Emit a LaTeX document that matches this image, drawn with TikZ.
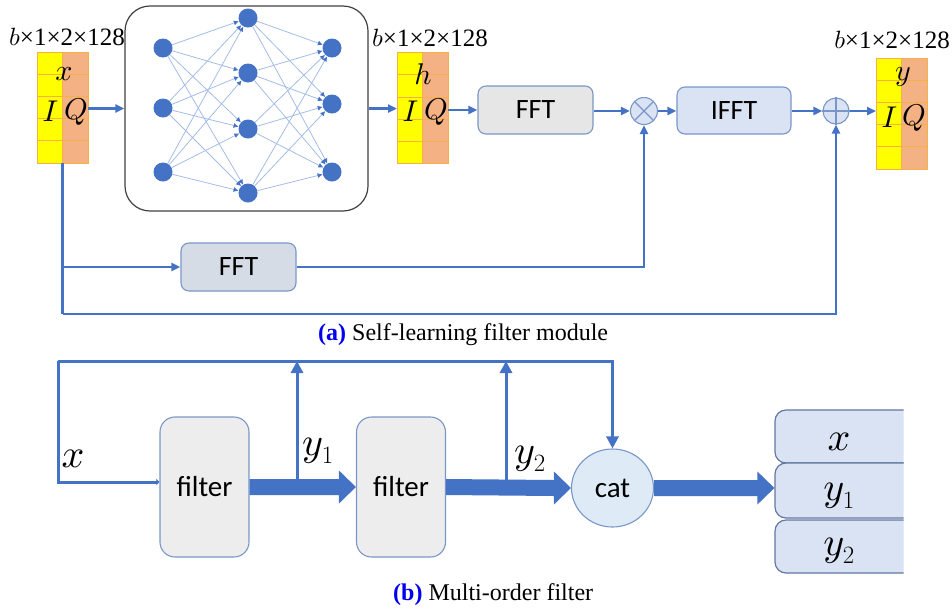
\documentclass[tikz,border=0pt]{standalone}
\usepackage{fontspec}
\setmainfont{Liberation Serif}
\newfontfamily\sansf{Carlito}
\DeclareFontFamily{OML}{cmm}{\skewchar\font127 }
\DeclareFontShape{OML}{cmm}{m}{it}{<->cmmi10}{}
\DeclareFontShape{OML}{cmm}{b}{it}{<->cmmib10}{}
\usetikzlibrary{arrows.meta,shapes.geometric,calc,backgrounds}
\definecolor{lblue}{HTML}{4472C4}
\definecolor{edgeblue}{HTML}{A4BCE6}
\definecolor{bordblue}{HTML}{7A96C8}
\definecolor{gfill}{HTML}{E7E6E6}
\definecolor{bfill}{HTML}{DAE3F3}
\definecolor{gbfill}{HTML}{D6DCE5}
\definecolor{ffill}{HTML}{EDEDED}
\definecolor{cfill}{HTML}{DEEBF7}
\definecolor{tyel}{HTML}{FFFF00}
\definecolor{tora}{HTML}{F4B183}
\definecolor{tline}{HTML}{F6B04A}
\definecolor{capblue}{HTML}{0000EE}
\newcommand\myfs[1]{\fontsize{#1}{#1}\selectfont}
\newcommand\tcells[1]{%
  \fill[tyel] (#1.north west) rectangle (#1.south);
  \fill[tora] (#1.north) rectangle (#1.south east);
  \foreach \k in {1,...,4}
    \draw[tline,line width=0.8pt] ($(#1.north west)!\k/5!(#1.south west)$) -- ($(#1.north east)!\k/5!(#1.south east)$);
  \draw[tline,line width=0.8pt] (#1.north) -- (#1.south);
  \draw[tline,line width=0.8pt] (#1.north west) rectangle (#1.south east);
}
\newcommand\thickarr[2]{%
  \fill[lblue] ($(#1)+(0,-8)$) -- ($(#2)+(-17,-8)$) -- ($(#2)+(-17,-16.5)$) -- (#2)
   -- ($(#2)+(-17,16.5)$) -- ($(#2)+(-17,8)$) -- ($(#1)+(0,8)$) -- cycle;}
\begin{document}
\begin{tikzpicture}[x=1pt,y=-1pt,
  tensor/.style={rectangle,inner sep=0pt,outer sep=0pt,minimum width=51pt,minimum height=111pt},
  dimlab/.style={inner sep=0pt,font=\myfs{25}},
  tvar/.style={inner sep=0pt,anchor=base,font=\myfs{30}},
  arr/.style={draw=lblue,line width=2.4pt,-{Triangle[length=9pt,width=8pt]}},
  tline2/.style={draw=lblue,line width=2.6pt},
  barr/.style={draw=lblue,line width=3pt,-{Triangle[length=12pt,width=12pt]}},
  bline/.style={draw=lblue,line width=3pt},
  procbox/.style={rectangle,rounded corners=8pt,draw=bordblue,line width=1.1pt,minimum width=115pt,minimum height=48pt,inner sep=0pt,font=\sansf\myfs{28}},
  opcirc/.style={circle,draw=bordblue,line width=1.1pt,fill=bfill,minimum size=27pt,inner sep=0pt},
  neuron/.style={circle,fill=lblue,minimum size=19pt,inner sep=0pt},
  nnedge/.style={draw=edgeblue,line width=0.8pt,-{Latex[length=5pt,width=5pt,color=lblue]}},
  filt/.style={rectangle,rounded corners=15pt,draw=bordblue,line width=1.1pt,fill=ffill,minimum width=89pt,minimum height=140pt,inner sep=0pt,font=\sansf\myfs{29}},
  obox/.style={rectangle,rounded corners=11pt,draw=bordblue!80!black,line width=1.2pt,fill=bfill,minimum width=150pt,inner sep=0pt},
  mlab/.style={inner sep=0pt,font=\myfs{40}}
]
\useasboundingbox (0,0) rectangle (952,611);

% ---------------- (a) ----------------
\node[tensor] (tx) at (62.5,107.5) {};
\tcells{tx}
\node[tensor] (th) at (422.5,108) {};
\tcells{th}
\node[tensor] (ty) at (901.5,113.5) {};
\tcells{ty}

\node[dimlab] (dx) at (67,37) {$b$×1×2×128};
\node[dimlab] (dh) at (430,38) {$b$×1×2×128};
\node[dimlab] (dy) at (892,40) {$b$×1×2×128};

\node[tvar] (vx) at (64,80) {$x$};
\node[tvar] (ix) at (50.5,121) {$I$};
\node[tvar] (qx) at (76,119) {$Q$};
\node[tvar] (vh) at (423,84) {$h$};
\node[tvar] (ih) at (410.5,121) {$I$};
\node[tvar] (qh) at (436,119) {$Q$};
\node[tvar] (vy) at (903,80) {$y$};
\node[tvar] (iy) at (889.5,127) {$I$};
\node[tvar] (qy) at (914,125) {$Q$};

% neural network
\node[rectangle,rounded corners=25pt,draw=black!75,line width=1.2pt,minimum width=243pt,minimum height=205pt,inner sep=0pt] (nn) at (246.5,108.5) {};
\foreach \i/\yy in {1/48,2/108,3/172} \node[neuron] (a\i) at (163,\yy) {};
\foreach \i/\yy in {1/18,2/73,3/129,4/193} \node[neuron] (b\i) at (248,\yy) {};
\foreach \i/\yy in {1/48,2/104,3/172} \node[neuron] (c\i) at (332,\yy) {};
\foreach \i in {1,2,3} \foreach \j in {1,...,4} \draw[nnedge] (a\i) -- (b\j);
\foreach \j in {1,...,4} \foreach \i in {1,2,3} \draw[nnedge] (b\j) -- (c\i);

\node[procbox,fill=gfill] (fft1) at (535.5,110) {FFT};
\node[opcirc] (mul) at (644,111) {};
\draw[bordblue,line width=1.1pt] ($(mul.center)+(-9.5,-9.5)$) -- ($(mul.center)+(9.5,9.5)$);
\draw[bordblue,line width=1.1pt] ($(mul.center)+(-9.5,9.5)$) -- ($(mul.center)+(9.5,-9.5)$);
\node[procbox,fill=bfill,minimum width=114pt,minimum height=47pt] (ifft) at (734,110.5) {IFFT};
\node[opcirc,minimum size=26pt] (add) at (836,111) {};
\draw[bordblue,line width=1.1pt] (add.north) -- (add.south);
\draw[bordblue,line width=1.1pt] (add.west) -- (add.east);
\node[procbox,fill=gbfill] (fft2) at (238.5,267) {FFT};

\draw[arr] (tx.east |- nn.west) -- (nn.west);
\draw[arr] (nn.east) -- (nn.east -| th.west);
\draw[arr] (th.east |- fft1.west) -- (fft1.west);
\draw[arr] (fft1.east |- mul.west) -- (mul.west);
\draw[arr] (mul.east) -- (mul.east -| ifft.west);
\draw[arr] (ifft.east |- add.west) -- (add.west);
\draw[arr] (add.east) -- (add.east -| ty.west);

\coordinate (lb) at (62.5,314);
\coordinate (lbr) at (62.5,267);
\draw[tline2] (tx.south) -- (lb);
\draw[arr,line width=2.6pt] (lb) -| (add.south);
\draw[arr] (lbr) -- (fft2.west);
\draw[arr] (fft2.east) -| (mul.south);

\node[anchor=west,inner sep=0pt,font=\myfs{24}] (capa) at (318,335) {\textcolor{capblue}{\textbf{(a)}} Self-learning filter module};

% ---------------- (b) ----------------
\node[filt] (f1) at (204.5,487) {filter};
\node[filt] (f2) at (401,487) {filter};
\node[ellipse,draw=bordblue,line width=1.1pt,fill=cfill,minimum width=82pt,minimum height=78pt,inner sep=0pt,font=\sansf\myfs{29}] (cat) at (612.5,488) {cat};

\begin{scope}
  \clip (760,400) rectangle (903.5,590);
  \node[obox,minimum height=53pt] (ob1) at (850,436.5) {};
  \node[obox,minimum height=55pt] (ob2) at (850,490.5) {};
  \node[obox,minimum height=53pt] (ob3) at (850,546.5) {};
\end{scope}
\node[mlab] (tob1) at (839,442) {$x$};
\node[mlab] (tob2) at (839,496) {$y_1$};
\node[mlab] (tob3) at (839,551) {$y_2$};

\thickarr{f1.east}{f2.west}
\thickarr{f2.east}{cat.west}
\thickarr{cat.east}{cat.east -| ob2.west}

\coordinate (tl) at (58,361);
\coordinate (xin) at ($(f1.west)+(0,-5)$);
\draw[bline,-{Triangle[length=3pt,width=6pt]}] (tl) |- (xin);
\draw[barr] (tl) -| (cat.north);
\coordinate (u1) at (297,480);
\coordinate (u2) at (506,480);
\draw[barr] (u1) -- (u1 |- tl);
\draw[barr] (u2) -- (u2 |- tl);

\node[mlab] (lx) at (73,459) {$x$};
\node[mlab] (ly1) at (318,451) {$y_1$};
\node[mlab] (ly2) at (530,459) {$y_2$};

\node[anchor=west,inner sep=0pt,font=\myfs{24}] (capb) at (393,595) {\textcolor{capblue}{\textbf{(b)}} Multi-order filter};
\end{tikzpicture}
\end{document}
